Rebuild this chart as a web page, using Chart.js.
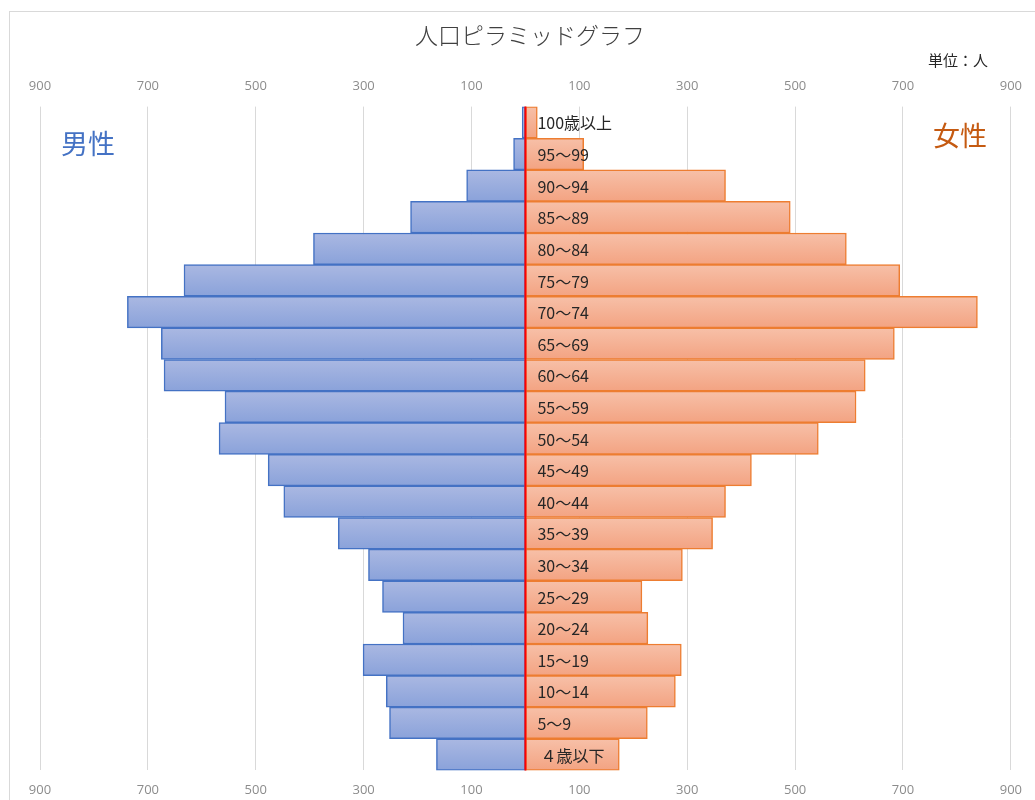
<!DOCTYPE html>
<html lang="ja">
<head>
<meta charset="utf-8">
<title>人口ピラミッドグラフ</title>
<script src="https://cdn.jsdelivr.net/npm/chart.js@4.4.1/dist/chart.umd.min.js"></script>
<style>
  html, body { margin: 0; padding: 0; background: #ffffff; overflow: hidden; }
  #wrap { position: relative; width: 1035px; height: 800px; }
  #frame { position: absolute; left: 9px; top: 11px; width: 1100px; height: 900px;
           border: 1px solid #d9d9d9; box-sizing: border-box; pointer-events: none; }
  canvas { position: absolute; left: 0; top: 0; }
</style>
</head>
<body>
<div id="wrap">
  <div id="frame"></div>
  <canvas id="pyramid" width="1035" height="800"></canvas>
</div>
<script>
// Age groups, oldest at the top
const ageGroups = ['100歳以上', '95～99', '90～94', '85～89', '80～84', '75～79', '70～74',
  '65～69', '60～64', '55～59', '50～54', '45～49', '40～44', '35～39', '30～34',
  '25～29', '20～24', '15～19', '10～14', '5～9', '４歳以下'];

// Population by age group (persons)
const male = [6, 22, 109, 213, 393, 633, 738, 675, 670, 557, 568, 477, 448, 347, 291,
  265, 227, 301, 258, 252, 165];
const female = [22, 108, 371, 491, 595, 694, 838, 684, 630, 613, 543, 419, 371, 347, 291,
  216, 227, 289, 278, 226, 174];

// Axis tick values (both sides shown as absolute numbers)
const axisMin = -900;
const axisMax = 900;
const axisStep = 200;

const JP_FONT = '"Noto Sans CJK JP", "Noto Sans", sans-serif';
const TICK_FONT = '"Liberation Sans Narrow", "Open Sans", sans-serif';

// Vertical gradient per bar row
function rowGradient(ctx, topColor, bottomColor, fallback) {
  const chart = ctx.chart;
  const y = chart.scales && chart.scales.y;
  if (!chart.chartArea || !y || ctx.dataIndex === undefined) return fallback;
  const center = y.getPixelForValue(ctx.dataIndex);
  const half = (chart.chartArea.bottom - chart.chartArea.top) / ageGroups.length / 2;
  const g = chart.ctx.createLinearGradient(0, center - half, 0, center + half);
  g.addColorStop(0, topColor);
  g.addColorStop(1, bottomColor);
  return g;
}

// Red centre line at zero
const centerLine = {
  id: 'centerLine',
  afterDatasetsDraw(chart) {
    const { ctx, chartArea, scales } = chart;
    const x = scales.x.getPixelForValue(0);
    ctx.save();
    ctx.strokeStyle = '#ff0000';
    ctx.lineWidth = 2;
    ctx.beginPath();
    ctx.moveTo(x, chartArea.top);
    ctx.lineTo(x, chartArea.bottom);
    ctx.stroke();
    ctx.restore();
  }
};

// Age group names printed just right of the centre line
const rowLabels = {
  id: 'rowLabels',
  afterDatasetsDraw(chart) {
    const { ctx, scales } = chart;
    const x0 = scales.x.getPixelForValue(0);
    ctx.save();
    ctx.fillStyle = '#262626';
    ctx.font = '16px ' + JP_FONT;
    ctx.textBaseline = 'middle';
    ctx.textAlign = 'left';
    ageGroups.forEach((name, i) => {
      const y = scales.y.getPixelForValue(i);
      const dx = name.startsWith('４') ? 15 : 12;
      ctx.fillText(name, x0 + dx, y + 1);
    });
    ctx.restore();
  }
};

// Title, unit note and side captions
const captions = {
  id: 'captions',
  afterDraw(chart) {
    const ctx = chart.ctx;
    ctx.save();
    ctx.textBaseline = 'middle';
    ctx.textAlign = 'center';
    ctx.fillStyle = '#404040';
    ctx.font = '300 23px ' + JP_FONT;
    ctx.fillText('人口ピラミッドグラフ', 530, 35);
    ctx.fillStyle = '#262626';
    ctx.font = '15px ' + JP_FONT;
    ctx.fillText('単位：人', 958, 60);
    ctx.font = '27px ' + JP_FONT;
    ctx.fillStyle = '#4472c4';
    ctx.fillText('男性', 88, 144);
    ctx.fillStyle = '#c55a11';
    ctx.fillText('女性', 960, 136);
    ctx.restore();
  }
};

const tickCfg = (pad) => ({
  min: axisMin,
  max: axisMax,
  stepSize: axisStep,
  color: '#8c8c8c',
  padding: pad,
  font: { family: TICK_FONT, size: 13 },
  callback: (v) => Math.abs(v)
});

new Chart(document.getElementById('pyramid'), {
  type: 'bar',
  data: {
    labels: ageGroups,
    datasets: [
      {
        label: '男性',
        data: male.map(v => -v),
        backgroundColor: (ctx) => rowGradient(ctx, '#aab8e2', '#8aa2da', '#9aaede'),
        borderColor: '#4472c4',
        borderWidth: 1.5,
        borderSkipped: false,
        barPercentage: 1,
        categoryPercentage: 1
      },
      {
        label: '女性',
        data: female,
        backgroundColor: (ctx) => rowGradient(ctx, '#f7c0a8', '#f3a382', '#f5b294'),
        borderColor: '#ed7d31',
        borderWidth: 1.5,
        borderSkipped: false,
        barPercentage: 1,
        categoryPercentage: 1
      }
    ]
  },
  options: {
    indexAxis: 'y',
    responsive: false,
    animation: false,
    layout: { padding: { top: 65, bottom: -10, left: 40, right: 24 } },
    plugins: {
      legend: { display: false },
      tooltip: { enabled: false },
      title: { display: false }
    },
    scales: {
      x: {
        type: 'linear',
        position: 'bottom',
        min: axisMin,
        max: axisMax,
        stacked: true,
        grid: { color: '#d9d9d9', lineWidth: 1, drawTicks: false },
        border: { display: false },
        ticks: tickCfg(12)
      },
      xTop: {
        type: 'linear',
        position: 'top',
        min: axisMin,
        max: axisMax,
        grid: { display: false, drawTicks: false },
        border: { display: false },
        ticks: tickCfg(13)
      },
      y: {
        type: 'category',
        stacked: true,
        display: false
      }
    }
  },
  plugins: [centerLine, rowLabels, captions]
});
</script>
</body>
</html>
